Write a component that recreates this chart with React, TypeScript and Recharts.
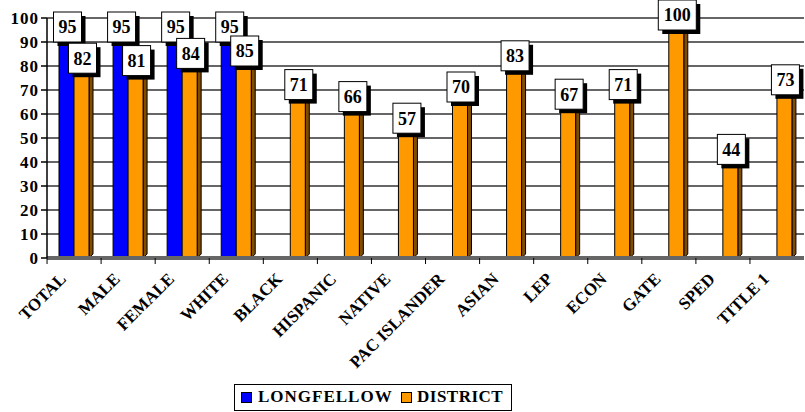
import React from 'react';
import { BarChart, Bar, XAxis, YAxis, CartesianGrid, LabelList, Legend } from 'recharts';

const categories = ['TOTAL', 'MALE', 'FEMALE', 'WHITE', 'BLACK', 'HISPANIC', 'NATIVE', 'PAC ISLANDER', 'ASIAN', 'LEP', 'ECON', 'GATE', 'SPED', 'TITLE 1'];
const longfellow: (number | null)[] = [95, 95, 95, 95, null, null, null, null, null, null, null, null, null, null];
const district: (number | null)[] = [82, 81, 84, 85, 71, 66, 57, 70, 83, 67, 71, 100, 44, 73];
const yTicks = [0, 10, 20, 30, 40, 50, 60, 70, 80, 90, 100];

const data = categories.map((c, i) => ({ name: c, LONGFELLOW: longfellow[i], DISTRICT: district[i] }));

const FONT = "'Liberation Serif', 'Times New Roman', serif";
const BLUE = { front: '#0000FF', side: '#000080', top: '#3333CC' };
const ORANGE = { front: '#FF9900', side: '#7F4C00', top: '#CC7A00' };
const DEPTH = 4;
const HALF_BAND = 27;

const Box3D = (props: any) => {
  const { x, y, width, height, colors } = props;
  if (height == null || !(height > 0)) return null;
  const d = DEPTH;
  const side = `${x + width},${y} ${x + width + d},${y - d} ${x + width + d},${y + height - d} ${x + width},${y + height}`;
  const top = `${x},${y} ${x + d},${y - d} ${x + width + d},${y - d} ${x + width},${y}`;
  return (
    <g>
      <polygon points={side} fill={colors.side} stroke="#000" strokeWidth={1} />
      <polygon points={top} fill={colors.top} stroke="#000" strokeWidth={1} />
      <rect x={x} y={y} width={width} height={height} fill={colors.front} stroke="#000" strokeWidth={1} />
    </g>
  );
};

const ValueLabel = (props: any) => {
  const { x, y, width, value } = props;
  if (value == null) return null;
  const cx = Number(x) + Number(width) / 2 + 1;
  const cy = Number(y) - 3;
  const w = String(value).length >= 3 ? 38 : 28;
  const h = 30;
  return (
    <g>
      <rect x={cx - w / 2 + 4} y={cy - h / 2 + 4} width={w} height={h} fill="#000" />
      <rect x={cx - w / 2} y={cy - h / 2} width={w} height={h} fill="#fff" stroke="#000" strokeWidth={1} />
      <text x={cx} y={cy} dy="0.36em" textAnchor="middle" fontSize={18} fontWeight="bold" fontFamily={FONT} fill="#000">
        {value}
      </text>
    </g>
  );
};

const XTick = (props: any) => {
  const { x, y, payload } = props;
  const ax = x - 7;
  const ay = y + 14;
  return (
    <g>
      <line x1={x - HALF_BAND} y1={y - 8} x2={x - HALF_BAND} y2={y - 2} stroke="#000" strokeWidth={1} />
      <text x={ax} y={ay} textAnchor="end" transform={`rotate(-45 ${ax} ${ay})`} fontSize={17} fontWeight="bold" fontFamily={FONT} fill="#000">
        {payload.value}
      </text>
    </g>
  );
};

const LegendBox = () => (
  <div style={{ width: 276, height: 25, border: '1px solid #000', background: '#fff', position: 'relative', fontFamily: FONT, fontWeight: 'bold', fontSize: 17, color: '#000' }}>
    <div style={{ position: 'absolute', left: 6, top: 7, width: 9, height: 9, background: BLUE.front, border: '1px solid #000' }} />
    <div style={{ position: 'absolute', left: 23, top: 2, letterSpacing: 1, lineHeight: '20px' }}>LONGFELLOW</div>
    <div style={{ position: 'absolute', left: 166, top: 7, width: 9, height: 9, background: ORANGE.front, border: '1px solid #000' }} />
    <div style={{ position: 'absolute', left: 182, top: 2, letterSpacing: 0.5, lineHeight: '20px' }}>DISTRICT</div>
  </div>
);

export default function App() {
  return (
    <div style={{ position: 'absolute', left: 0, top: 0, width: 805, height: 412, background: '#fff' }}>
      <BarChart width={805} height={412} data={data} margin={{ top: 18, right: 1, bottom: 34, left: 0 }} barGap={0}>
        <CartesianGrid vertical={false} stroke="#333" strokeWidth={1.5} />
        <XAxis
          dataKey="name"
          interval={0}
          height={120}
          tick={<XTick />}
          tickLine={false}
          axisLine={{ stroke: '#666', strokeWidth: 4 }}
        />
        <YAxis
          domain={[0, 100]}
          ticks={yTicks}
          interval={0}
          width={47}
          tickSize={6}
          tickMargin={2}
          axisLine={{ stroke: '#000', strokeWidth: 1.5 }}
          tickLine={{ stroke: '#000', strokeWidth: 1.5 }}
          tick={{ fontSize: 17, fontWeight: 'bold', fontFamily: FONT, fill: '#000', letterSpacing: 1 }}
        />
        <Legend
          verticalAlign="middle"
          layout="horizontal"
          wrapperStyle={{ position: 'absolute', left: 234, top: 384, width: 278, height: 27 }}
          content={<LegendBox />}
        />
        <Bar dataKey="LONGFELLOW" barSize={15} fill={BLUE.front} isAnimationActive={false} shape={(p: any) => <Box3D {...p} colors={BLUE} />}>
          <LabelList dataKey="LONGFELLOW" content={<ValueLabel />} />
        </Bar>
        <Bar dataKey="DISTRICT" barSize={15} fill={ORANGE.front} isAnimationActive={false} shape={(p: any) => <Box3D {...p} colors={ORANGE} />}>
          <LabelList dataKey="DISTRICT" content={<ValueLabel />} />
        </Bar>
      </BarChart>
    </div>
  );
}
